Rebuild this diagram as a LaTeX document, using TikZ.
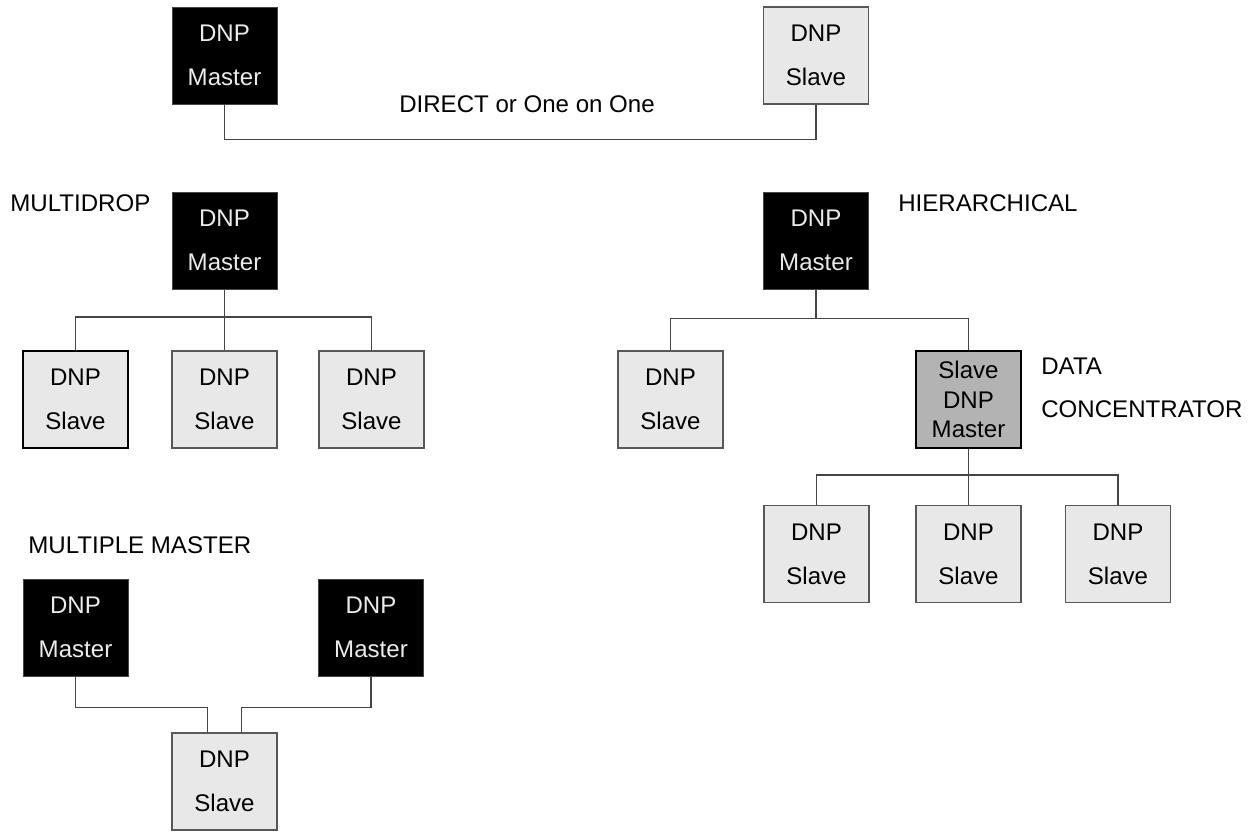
\documentclass[tikz,border=0pt]{standalone}
\usepackage{fontspec}
\setmainfont{Liberation Sans}
\usepackage{xcolor}
\usetikzlibrary{positioning,calc}
\definecolor{BoxGray}{HTML}{E8E8E8}
\definecolor{ConcGray}{HTML}{B3B3B3}
\definecolor{WireGray}{HTML}{454545}

\begin{document}
\begin{tikzpicture}[
        x=0.02cm, y=-0.02cm,
        % --- COMMON STYLE ---
        common/.style={
            rectangle,
            minimum width=2.1cm,
            minimum height=1.94cm,
            inner sep=0pt,
            align=center,
            font=\fontsize{13.7}{25}\selectfont
        },
        % Master box (black)
        master_node/.style={
            common,
            draw=WireGray,
            fill=black,
            text=white!92!black
        },
        % Slave box (light gray)
        slave_node/.style={
            common,
            draw=WireGray!90,
            line width=0.8pt,
            fill=BoxGray
        },
        % Data concentrator box (mid gray)
        conc_node/.style={
            common,
            draw=black,
            line width=1pt,
            fill=ConcGray,
            font=\fontsize{13.7}{17}\selectfont
        },
        % Topology label
        title/.style={
            anchor=base west,
            inner sep=0pt,
            font=\fontsize{13.7}{25}\selectfont
        },
        % Wires
        wire/.style={
            draw=WireGray,
            line width=0.85pt
        }
    ]

        \useasboundingbox (0,0) rectangle (1253,831);

        % --- DIRECT ---
        \node[master_node] (dm) at (224.5,55.5) {DNP\\Master};
        \node[slave_node] (ds) at (816,55.5) {DNP\\Slave};
        \node[title, anchor=base] (dlabel) at (527,113) {DIRECT or One on One};
        \draw[wire] (dm.south) -- ++(0,35) -| (ds.south);

        % --- MULTIDROP ---
        \node[title] (mdlabel) at (10,212) {MULTIDROP};
        \node[master_node] (mdm) at (224.5,240.5) {DNP\\Master};
        \node[slave_node, draw=black, line width=1.3pt] (mds1) at (75.5,399.5) {DNP\\Slave};
        \node[slave_node] (mds2) at (224.5,399.5) {DNP\\Slave};
        \node[slave_node] (mds3) at (371.5,399.5) {DNP\\Slave};
        \draw[wire] (mdm.south) -- (mds2.north);
        \draw[wire] (mds1.north) -- ++(0,-33) -| (mds3.north);

        % --- HIERARCHICAL ---
        \node[title] (hlabel) at (898,212) {HIERARCHICAL};
        \node[master_node] (hm) at (816,240.5) {DNP\\Master};
        \node[slave_node] (hs) at (670.5,399.5) {DNP\\Slave};
        \node[conc_node] (dc) at (968.5,399.5) {Slave\\DNP\\Master};
        \node[title, align=left, anchor=north west, font=\fontsize{13.7}{24}\selectfont]
            (dclabel) at (1041,358) {DATA\\CONCENTRATOR};
        \draw[wire] (hm.south) -- ++(0,29) coordinate (hbus);
        \draw[wire] (hs.north) |- (hbus) -| (dc.north);

        % sub-tree under the concentrator
        \node[slave_node] (ls1) at (816.5,554) {DNP\\Slave};
        \node[slave_node] (ls2) at (968.5,554) {DNP\\Slave};
        \node[slave_node] (ls3) at (1118,554) {DNP\\Slave};
        \draw[wire] (dc.south) -- (ls2.north);
        \draw[wire] (ls1.north) -- ++(0,-30) -| (ls3.north);

        % --- MULTIPLE MASTER ---
        \node[title] (mmlabel) at (28,553) {MULTIPLE MASTER};
        \node[master_node] (mm1) at (75.5,627.5) {DNP\\Master};
        \node[master_node] (mm2) at (371,627.5) {DNP\\Master};
        \node[slave_node] (mms) at (224.5,781.5) {DNP\\Slave};
        \draw[wire] (mm1.south) -- ++(0,31) -| ([xshift=-0.34cm]mms.north);
        \draw[wire] (mm2.south) -- ++(0,31) -| ([xshift=0.34cm]mms.north);

    \end{tikzpicture}
\end{document}
